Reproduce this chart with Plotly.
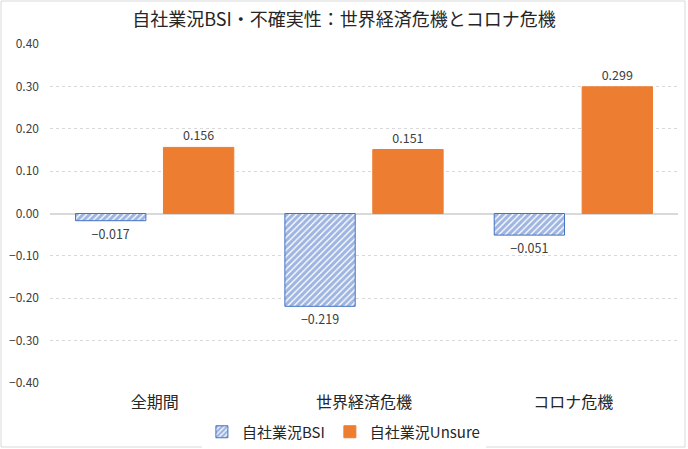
import plotly.graph_objects as go

categories = ["全期間", "世界経済危機", "コロナ危機"]
bsi = [-0.017, -0.219, -0.051]
unsure = [0.156, 0.151, 0.299]
series_names = ["自社業況BSI", "自社業況Unsure"]
title_text = "自社業況BSI・不確実性：世界経済危機とコロナ危機"
tick_vals = [0.4, 0.3, 0.2, 0.1, 0.0, -0.1, -0.2, -0.3, -0.4]

FONT = "Noto Sans CJK JP"
TXT = "#404040"

fig = go.Figure()
fig.add_trace(go.Bar(
    x=categories, y=bsi, name=series_names[0],
    marker=dict(color="white",
                line=dict(color="#4472C4", width=1),
                pattern=dict(shape="/", fgcolor="#3E6CC4", bgcolor="white",
                             size=4.5, solidity=0.7)),
    text=[f"{v:.3f}".replace("-", "−") for v in bsi],
    textposition="outside", cliponaxis=False,
    textfont=dict(size=12.5, color=TXT, family=FONT),
))
fig.add_trace(go.Bar(
    x=categories, y=unsure, name=series_names[1],
    marker=dict(color="#ED7D31", line=dict(color="#ED7D31", width=1)),
    text=[f"{v:.3f}" for v in unsure],
    textposition="outside", cliponaxis=False,
    textfont=dict(size=12.5, color=TXT, family=FONT),
))

fig.update_layout(
    width=688, height=449,
    margin=dict(l=50, r=10, t=44, b=66, autoexpand=False),
    paper_bgcolor="white", plot_bgcolor="white",
    font=dict(family=FONT, color=TXT),
    title=dict(text=title_text, x=0.5, xref="container", xanchor="center",
               y=1 - 20 / 449, yref="container", yanchor="middle",
               font=dict(size=18, color="#262626", family=FONT)),
    barmode="group", bargap=0.16, bargroupgap=0.2,
    showlegend=True,
    legend=dict(orientation="h", x=0.468, xanchor="center", y=-49 / 339, yanchor="middle",
                font=dict(size=15, color="#262626", family=FONT),
                itemwidth=30, traceorder="normal"),
    xaxis=dict(tickfont=dict(size=16, color="#262626", family=FONT),
               showline=False, ticks="", ticklabelstandoff=8),
    yaxis=dict(range=[-0.4, 0.4], tickvals=tick_vals,
               tickformat=".2f", tickfont=dict(size=12, color=TXT, family=FONT),
               showgrid=True, gridcolor="#D9D9D9", griddash="dot", gridwidth=1,
               zeroline=True, zerolinecolor="#D9D9D9", zerolinewidth=1.5,
               ticklabelstandoff=10),
    shapes=[dict(type="rect", xref="paper", yref="paper",
                 x0=-49 / 628, x1=1 + 7 / 628, y0=-64 / 339, y1=1 + 43 / 339,
                 line=dict(color="#D9D9D9", width=1), fillcolor="rgba(0,0,0,0)",
                 layer="below")],
)
fig.write_html("out.html",
               config={"displayModeBar": False},
               post_script="document.body.style.margin='0';document.body.style.overflow='hidden';")
